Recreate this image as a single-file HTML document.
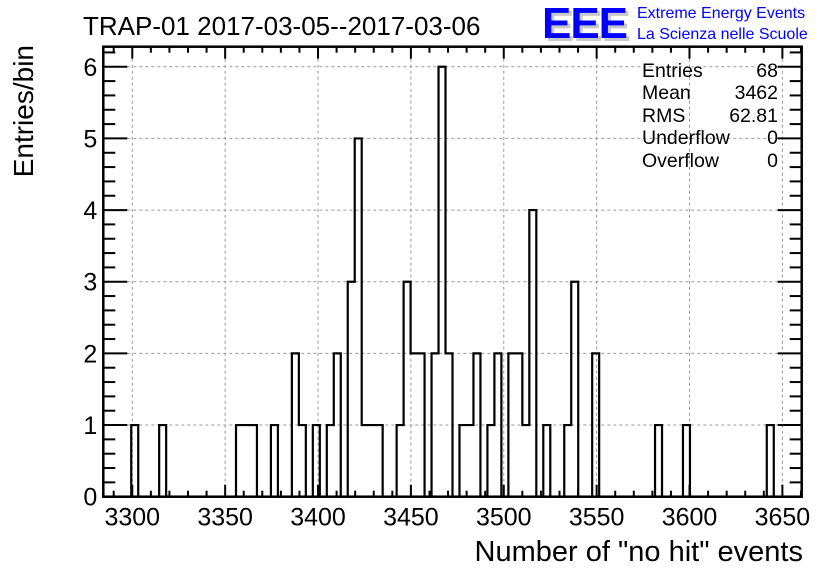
<!DOCTYPE html>
<html><head><meta charset="utf-8"><style>
html,body{margin:0;padding:0;background:#fff;}
svg{display:block;font-family:"Liberation Sans",Arial,sans-serif;}
</style></head><body>
<svg id="chart" width="836" height="572" viewBox="0 0 836 572" xmlns="http://www.w3.org/2000/svg">
<rect width="836" height="572" fill="#fff"/>
<text x="83" y="35" font-size="26">TRAP-01 2017-03-05--2017-03-06</text>
<g>
<text x="545" y="41" font-size="44" font-weight="bold" fill="#c8c8c8" textLength="86">EEE</text>
<text x="542" y="38" font-size="44" font-weight="bold" fill="#0000ff" textLength="86">EEE</text>
<text x="637" y="18" font-size="16" fill="#0000ff">Extreme Energy Events</text>
<text x="637" y="39" font-size="16" fill="#0000ff">La Scienza nelle Scuole</text>
</g>
<text transform="translate(33,45) rotate(-90)" text-anchor="end" font-size="28">Entries/bin</text>
<text x="803" y="561" text-anchor="end" font-size="29">Number of "no hit" events</text>
<g id="grid"></g>
<g id="hist"></g>
<g id="axes"></g>
<g font-size="19.5">
<text x="642" y="77">Entries</text><text x="778" y="77" text-anchor="end">68</text>
<text x="642" y="99">Mean</text><text x="778" y="99" text-anchor="end">3462</text>
<text x="642" y="122">RMS</text><text x="778" y="122" text-anchor="end">62.81</text>
<text x="642" y="144">Underflow</text><text x="778" y="144" text-anchor="end">0</text>
<text x="642" y="167">Overflow</text><text x="778" y="167" text-anchor="end">0</text>
</g>
</svg>
<script>
const xMin = 3284.4, xMax = 3660.4, nBins = 100;
const binIndex = [4,8,19,20,21,24,27,28,30,32,33,35,36,37,38,39,42,43,44,45,47,48,49,51,52,53,55,56,58,59,60,61,63,66,67,70,79,83,95];
const binCount = [1,1,1,1,1,1,2,1,1,1,2,3,5,1,1,1,1,3,2,2,2,6,2,1,1,2,1,2,2,2,1,4,1,1,3,2,1,1,1];
const xTicks = [3300,3350,3400,3450,3500,3550,3600,3650];
const yTicks = [0,1,2,3,4,5,6];
const yMax = 6.28;
const L=103.3,R=801.7,T=46.7,B=496.7;
const X=v=>L+(v-xMin)/(xMax-xMin)*(R-L);
const Y=v=>B-v/yMax*(B-T);
const NS="http://www.w3.org/2000/svg";
function mk(tag,attrs,parent){const e=document.createElementNS(NS,tag);for(const k in attrs)e.setAttribute(k,attrs[k]);parent.appendChild(e);return e;}
const grid=document.getElementById('grid'),hist=document.getElementById('hist'),axes=document.getElementById('axes');
xTicks.forEach(t=>{const l=mk('line',{x1:X(t),x2:X(t),y1:T,y2:B,stroke:'#999','stroke-dasharray':'3,3','stroke-width':1},grid);

});
yTicks.forEach(t=>{const l=mk('line',{x1:L,x2:R,y1:Y(t),y2:Y(t),stroke:'#999','stroke-dasharray':'3,3','stroke-width':1},grid);

});
const counts=new Array(nBins).fill(0);
binIndex.forEach((k,i)=>counts[k]=binCount[i]);
const w=(xMax-xMin)/nBins;
let d='M'+X(xMin)+','+Y(0);
for(let k=0;k<nBins;k++){const x0=X(xMin+k*w),x1=X(xMin+(k+1)*w);d+=' L'+x0+','+Y(counts[k])+' L'+x1+','+Y(counts[k]);}
d+=' L'+X(xMax)+','+Y(0);
const p=mk('path',{d:d,fill:'none',stroke:'#000','stroke-width':2.2},hist);


const fr=mk('rect',{x:L,y:T,width:R-L,height:B-T,fill:'none',stroke:'#000','stroke-width':2.5},axes);


for(let v=3290;v<=3660;v+=10){const major=v%50===0;const len=major?12:6;
mk('line',{x1:X(v),x2:X(v),y1:B,y2:B-len,stroke:'#000','stroke-width':2},axes);
mk('line',{x1:X(v),x2:X(v),y1:T,y2:T+len,stroke:'#000','stroke-width':2},axes);}
for(let i=0;i<=31;i++){const v=i*0.2;if(v>yMax)break;const major=i%5===0;const len=major?24:12;
mk('line',{x1:L,x2:L+len,y1:Y(v),y2:Y(v),stroke:'#000','stroke-width':2},axes);
mk('line',{x1:R,x2:R-len,y1:Y(v),y2:Y(v),stroke:'#000','stroke-width':2},axes);}
xTicks.forEach(t=>{const tx=mk('text',{x:X(t),y:B+29,'text-anchor':'middle','font-size':25},axes);tx.textContent=t;

});
yTicks.forEach(t=>{const tx=mk('text',{x:L-6,y:Y(t)+9,'text-anchor':'end','font-size':25},axes);tx.textContent=t;

});
</script>
</body></html>
